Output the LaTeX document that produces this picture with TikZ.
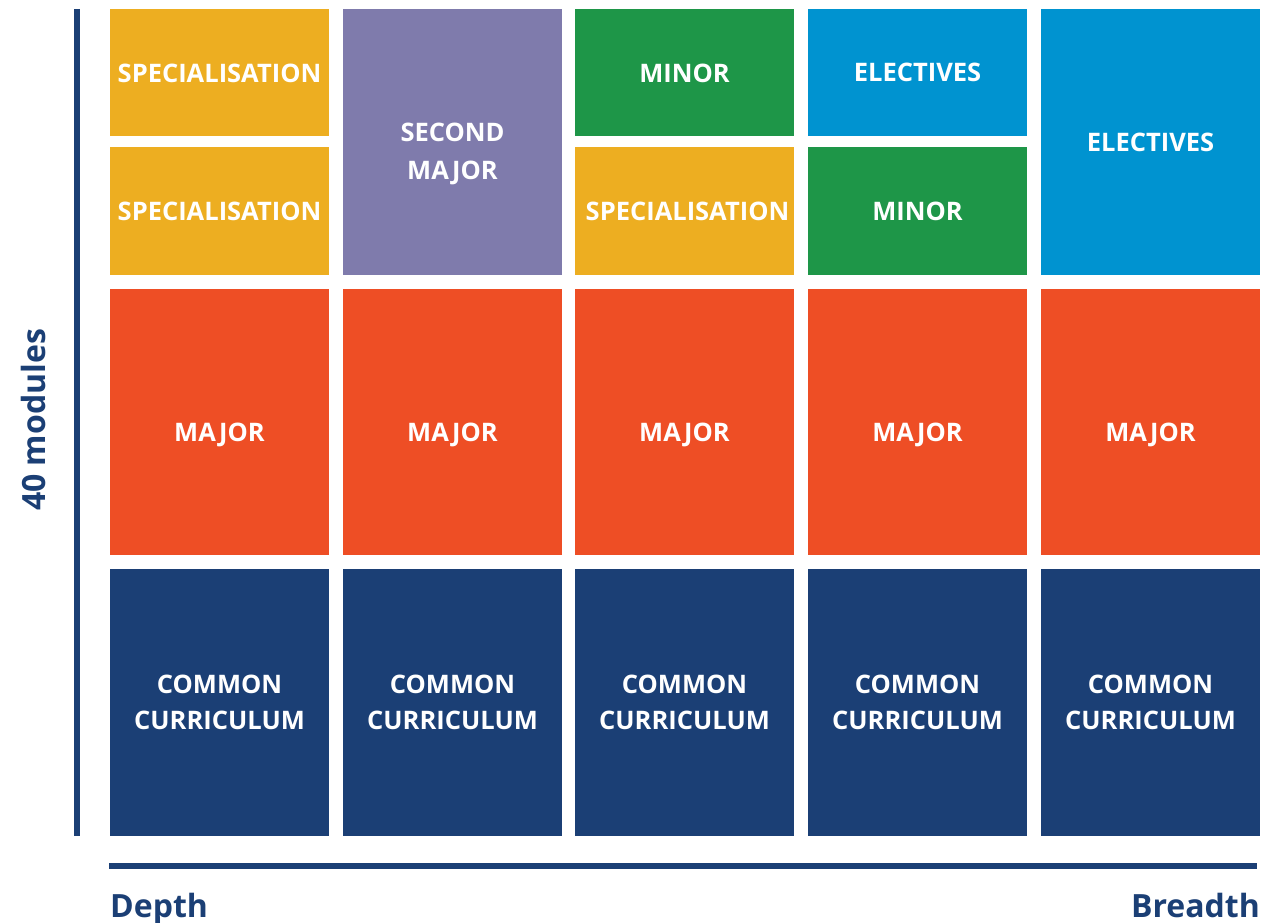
\documentclass[tikz,border=0pt]{standalone}
\usepackage{fontspec}
\setmainfont{Open Sans}
\definecolor{cYel}{HTML}{EDAE21}
\definecolor{cPur}{HTML}{7F7BAC}
\definecolor{cGrn}{HTML}{1E9648}
\definecolor{cBlu}{HTML}{0093D0}
\definecolor{cRed}{HTML}{EE4E25}
\definecolor{cNav}{HTML}{1B3F75}
\tikzset{
  blk/.style={rectangle, draw=none, inner sep=0pt, outer sep=0pt, minimum width=219pt},
  rowA/.style={blk, minimum height=127pt},
  rowB/.style={blk, minimum height=128pt},
  rowAB/.style={blk, minimum height=266pt},
  rowC/.style={blk, minimum height=266pt},
  rowD/.style={blk, minimum height=267pt},
  lbl/.style={text=white, inner sep=0pt, font=\fontsize{25.5}{36}\selectfont\bfseries,
    text height=18.2pt, text depth=0pt},
  lbltwo/.style={text=white, inner sep=0pt, align=center},
  axis/.style={draw=cNav, line width=6pt},
  axlabel/.style={text=cNav, inner sep=0pt, font=\fontsize{32}{38}\selectfont\bfseries}
}
\begin{document}
\begin{tikzpicture}[x=1pt,y=-1pt]
\useasboundingbox (0,0) rectangle (1277,923);
% row A
\node[rowA, fill=cYel] (s1) at (219.5,72.5) {};
\node[rowA, fill=cGrn] (m3) at (684.5,72.5) {};
\node[rowA, fill=cBlu] (e4) at (917.5,72.5) {};
% row B
\node[rowB, fill=cYel] (s1b) at (219.5,211) {};
\node[rowB, fill=cYel] (s3) at (684.5,211) {};
\node[rowB, fill=cGrn] (m4) at (917.5,211) {};
% rows A+B
\node[rowAB, fill=cPur] (sm2) at (452.5,142) {};
\node[rowAB, fill=cBlu] (e5) at (1150.5,142) {};
% labels
\node[lbl] (ts1) at ([yshift=-0.5pt]s1.center) {SPECIALISATION};
\node[lbl] (tm3) at ([yshift=-0.5pt]m3.center) {MINOR};
\node[lbl] (te4) at ([yshift=0pt]e4.center) {ELECTIVES};
\node[lbl] (ts1b) at (s1b.center) {SPECIALISATION};
\node[lbl] (ts3) at ([xshift=3pt]s3.center) {SPECIALISATION};
\node[lbl] (tm4) at (m4.center) {MINOR};
\node[lbltwo, font=\fontsize{25.5}{38}\selectfont\bfseries] (tsm2) at ([yshift=-12pt]sm2.center) {SECOND\\MAJOR};
\node[lbl] (te5) at (e5.center) {ELECTIVES};
% rows C and D
\foreach \i/\x in {1/219.5,2/452.5,3/684.5,4/917.5,5/1150.5}{
  \node[rowC, fill=cRed] (maj\i) at (\x,422) {};
  \node[rowD, fill=cNav] (cc\i) at (\x,702.5) {};
  \node[lbl] (tmaj\i) at ([yshift=-10pt]maj\i.center) {MAJOR};
  \node[lbltwo, font=\fontsize{25.5}{36}\selectfont\bfseries] (tcc\i) at (cc\i.center) {COMMON\\CURRICULUM};
}
% axes
\coordinate (vt) at (77,9);
\coordinate (vb) at (77,836);
\coordinate (hl) at (109,866);
\coordinate (hr) at (1257,866);
\draw[axis] (vt) -- (vb);
\draw[axis] (hl) -- (hr);
\node[axlabel, rotate=90] (mods) at (33,420) {40 modules};
\node[axlabel, anchor=base west] (depth) at (110,917) {Depth};
\node[axlabel, anchor=base east] (breadth) at (1260,917) {Breadth};
\end{tikzpicture}
\end{document}
